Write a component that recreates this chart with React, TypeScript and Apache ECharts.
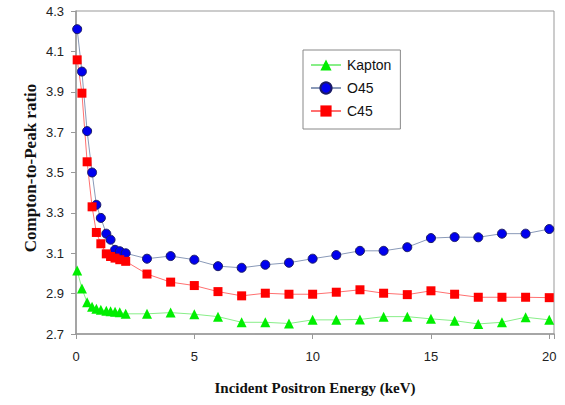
import React, { useEffect, useRef } from "react";
import * as echarts from "echarts";

const energies = [0.05, 0.25, 0.47, 0.68, 0.86, 1.05, 1.28, 1.46, 1.65, 1.85, 2.1, 3, 4, 5, 6, 7, 8, 9, 10, 11, 12, 13, 14, 15, 16, 17, 18, 19, 20];
const kapton = [3.015, 2.925, 2.857, 2.835, 2.825, 2.82, 2.815, 2.813, 2.81, 2.808, 2.8, 2.8, 2.806, 2.798, 2.786, 2.758, 2.758, 2.752, 2.77, 2.77, 2.772, 2.786, 2.786, 2.775, 2.766, 2.75, 2.758, 2.783, 2.77];
const o45 = [4.21, 4.0, 3.705, 3.5, 3.34, 3.275, 3.197, 3.167, 3.117, 3.11, 3.1, 3.073, 3.086, 3.068, 3.036, 3.028, 3.043, 3.053, 3.073, 3.091, 3.112, 3.112, 3.13, 3.175, 3.18, 3.179, 3.197, 3.197, 3.22];
const c45 = [4.058, 3.893, 3.553, 3.33, 3.203, 3.147, 3.097, 3.084, 3.076, 3.068, 3.06, 2.997, 2.957, 2.94, 2.91, 2.889, 2.902, 2.897, 2.897, 2.907, 2.919, 2.902, 2.895, 2.914, 2.897, 2.882, 2.882, 2.882, 2.88];
const xTicks = [0, 5, 10, 15, 20];
const xTitle = "Incident Positron Energy (keV)";
const yTitle = "Compton-to-Peak ratio";

const toPairs = (vals: number[]) => energies.map((x, i) => [x, vals[i]]);

export default function App() {
  const ref = useRef<HTMLDivElement>(null);
  useEffect(() => {
    if (!ref.current) return;
    const chart = echarts.init(ref.current, null, { renderer: "svg" });
    const labelFont = { fontFamily: "Liberation Sans, Arial, sans-serif", fontSize: 13, color: "#222" };
    chart.setOption({
      animation: false,
      backgroundColor: "#fff",
      grid: {
        left: 76, right: 11, top: 11, bottom: 71,
        show: true, borderColor: "#999", borderWidth: 1, backgroundColor: "transparent",
      },
      xAxis: {
        type: "value", min: 0, max: 20.2, interval: 5,
        axisLine: { show: true, lineStyle: { color: "#999", width: 1.5 } },
        axisTick: { show: true, inside: false, length: 5, lineStyle: { color: "#999" } },
        splitLine: { show: false },
        axisLabel: {
          ...labelFont, margin: 16,
          formatter: (v: number) => (xTicks.includes(v) ? String(v) : ""),
        },
      },
      yAxis: {
        type: "value", min: 2.7, max: 4.3, interval: 0.2,
        axisLine: { show: true, lineStyle: { color: "#999", width: 1.5 } },
        axisTick: { show: true, inside: false, length: 5, lineStyle: { color: "#999" } },
        splitLine: { show: false },
        axisLabel: { ...labelFont, margin: 12, formatter: (v: number) => v.toFixed(1) },
      },
      legend: {
        orient: "vertical", left: 303, top: 50,
        padding: [8, 9, 11, 7], itemGap: 9, itemWidth: 30, itemHeight: 14,
        borderColor: "#888", borderWidth: 1, backgroundColor: "#fff",
        textStyle: { fontFamily: "Liberation Sans, Arial, sans-serif", fontSize: 14, color: "#111", padding: [0, 0, 0, 1] },
        data: ["Kapton", "O45", "C45"],
      },
      graphic: [
        {
          type: "text", x: 30, y: 168, rotation: Math.PI / 2,
          style: {
            text: yTitle, fontFamily: "Liberation Serif, Times New Roman, serif", fontWeight: "bold",
            fontSize: 17, fill: "#111", align: "center", verticalAlign: "middle",
          },
        },
        {
          type: "text", x: 315, y: 388,
          style: {
            text: xTitle, fontFamily: "Liberation Serif, Times New Roman, serif", fontWeight: "bold",
            fontSize: 15, fill: "#111", align: "center", verticalAlign: "middle",
          },
        },
      ],
      series: [
        {
          name: "Kapton", type: "line", data: toPairs(kapton),
          symbol: "triangle", symbolSize: 10,
          lineStyle: { color: "#88ee88", width: 1 },
          itemStyle: { color: "#00ee00", borderWidth: 0 },
        },
        {
          name: "O45", type: "line", data: toPairs(o45),
          symbol: "circle", symbolSize: 9,
          lineStyle: { color: "#8a9ab8", width: 1 },
          itemStyle: { color: "#0000ee", borderColor: "#1a1a66", borderWidth: 1 },
        },
        {
          name: "C45", type: "line", data: toPairs(c45),
          symbol: "rect", symbolSize: 9,
          lineStyle: { color: "#ff7070", width: 1 },
          itemStyle: { color: "#ff0000", borderWidth: 0 },
        },
      ],
    });
    return () => chart.dispose();
  }, []);
  return <div ref={ref} style={{ width: 565, height: 405, position: "absolute", left: 0, top: 0 }} />;
}
